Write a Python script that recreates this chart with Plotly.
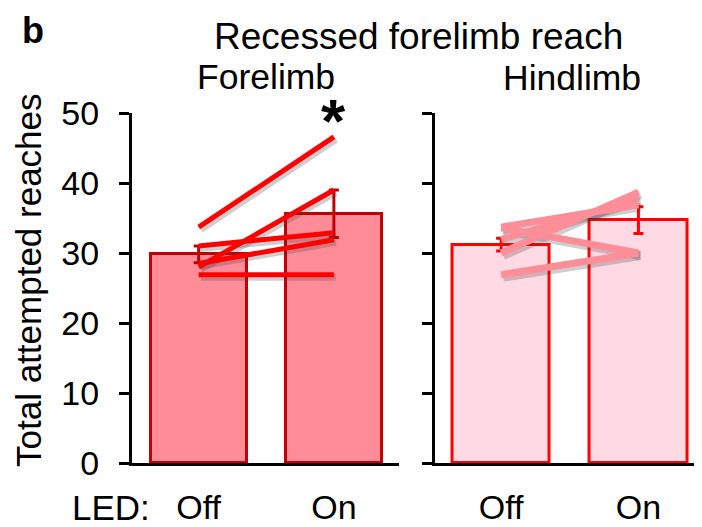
import plotly.graph_objects as go
from plotly.subplots import make_subplots

# ---- data ----
conditions = ["Off", "On"]
tick_x = [0, 1]
y_ticks = [0, 10, 20, 30, 40, 50]

fore_bar = [29.8, 35.6]
fore_sem = [1.2, 3.4]
fore_off = [33.7, 31.0, 28.5, 28.0, 26.9]
fore_on = [46.6, 32.9, 31.9, 39.0, 26.9]

hind_bar = [31.2, 34.7]
hind_sem = [0.9, 1.9]
hind_off = [33.6, 26.9, 30.0, 31.9, 33.7]
hind_on = [30.0, 30.0, 38.7, 37.8, 36.9]

FONT = "Liberation Sans, Arial, sans-serif"

fig = make_subplots(rows=1, cols=2, horizontal_spacing=0.0615)

def add_panel(col, bars, sem, offs, ons, fill, edge, line_col, lw):
    fig.add_trace(go.Bar(
        x=tick_x, y=bars, width=0.71,
        marker=dict(color=fill, line=dict(color=edge, width=3)),
        error_y=dict(type="data", array=sem, visible=True, color=edge,
                     thickness=3, width=5),
        showlegend=False, hoverinfo="skip"), row=1, col=col)
    # subtle drop shadows
    for a, b in zip(offs, ons):
        fig.add_trace(go.Scatter(
            x=[tick_x[0] + 0.015, tick_x[1] + 0.015], y=[a - 0.35, b - 0.35],
            mode="lines", line=dict(color="rgba(60,60,60,0.25)", width=lw + 2),
            showlegend=False, hoverinfo="skip"), row=1, col=col)
    for a, b in zip(offs, ons):
        fig.add_trace(go.Scatter(
            x=tick_x, y=[a, b], mode="lines",
            line=dict(color=line_col, width=lw),
            showlegend=False, hoverinfo="skip"), row=1, col=col)

add_panel(1, fore_bar, fore_sem, fore_off, fore_on,
          "#FF8C96", "#C00000", "#FF0000", 5)
add_panel(2, hind_bar, hind_sem, hind_off, hind_on,
          "#FFD9E3", "#FF0000", "#FF8E98", 7)

xcommon = dict(tickvals=tick_x, ticktext=conditions, showline=True,
               linecolor="black", linewidth=3, ticks="outside", ticklen=0,
               tickcolor="rgba(0,0,0,0)", showgrid=False, zeroline=False,
               tickfont=dict(family=FONT, size=34, color="black"),
               ticklabelstandoff=12, fixedrange=True, automargin=False)
ycommon = dict(range=[0, 50], tickvals=y_ticks, showline=True,
               linecolor="black", linewidth=3, ticks="outside", ticklen=10,
               tickwidth=3, tickcolor="black", showgrid=False, zeroline=False,
               tickfont=dict(family=FONT, size=34, color="black"),
               fixedrange=True, automargin=False)

fig.update_xaxes(range=[-0.493, 1.485], **xcommon, row=1, col=1)
fig.update_xaxes(range=[-0.485, 1.463], **xcommon, row=1, col=2)
fig.update_yaxes(ticklabelstandoff=13, **ycommon, row=1, col=1)
fig.update_yaxes(showticklabels=False, **ycommon, row=1, col=2)

# page body adds an 8px margin, so the figure is 8px smaller than the window
fig.update_layout(
    width=694, height=519,
    margin=dict(l=124, r=0, t=105, b=64),
    plot_bgcolor="white", paper_bgcolor="white",
    bargap=0, font=dict(family=FONT, color="black"),
)

H = 350.0
def py(pix):
    return (463 - pix) / H
def px(pix):
    return (pix - 132) / 570.0

ann = [
    dict(text="<b>b</b>", x=px(33), y=py(30), size=36),
    dict(text="Recessed forelimb reach", x=px(418), y=py(36), size=37),
    dict(text="Forelimb", x=px(266), y=py(77), size=35.5),
    dict(text="Hindlimb", x=px(572), y=py(78), size=35.5),
]
for a in ann:
    fig.add_annotation(text=a["text"], x=a["x"], y=a["y"], xref="paper",
                       yref="paper", showarrow=False, xanchor="center",
                       yanchor="middle", font=dict(family=FONT, size=a["size"],
                                                   color="black"))

fig.add_annotation(text="Total attempted reaches", x=px(28), y=py(280),
                   xref="paper", yref="paper", showarrow=False, textangle=-90,
                   xanchor="center", yanchor="middle",
                   font=dict(family=FONT, size=35, color="black"))
fig.add_annotation(text="LED:", x=px(152), y=py(507), xref="paper",
                   yref="paper", showarrow=False, xanchor="right",
                   yanchor="middle", font=dict(family=FONT, size=35,
                                               color="black"))
fig.add_annotation(text="<b>*</b>", x=tick_x[1], y=fore_on[0], xref="x",
                   yref="y", showarrow=False, xanchor="center",
                   yanchor="bottom", yshift=-20,
                   font=dict(family=FONT, size=62, color="black"))

fig.write_html("out.html")
